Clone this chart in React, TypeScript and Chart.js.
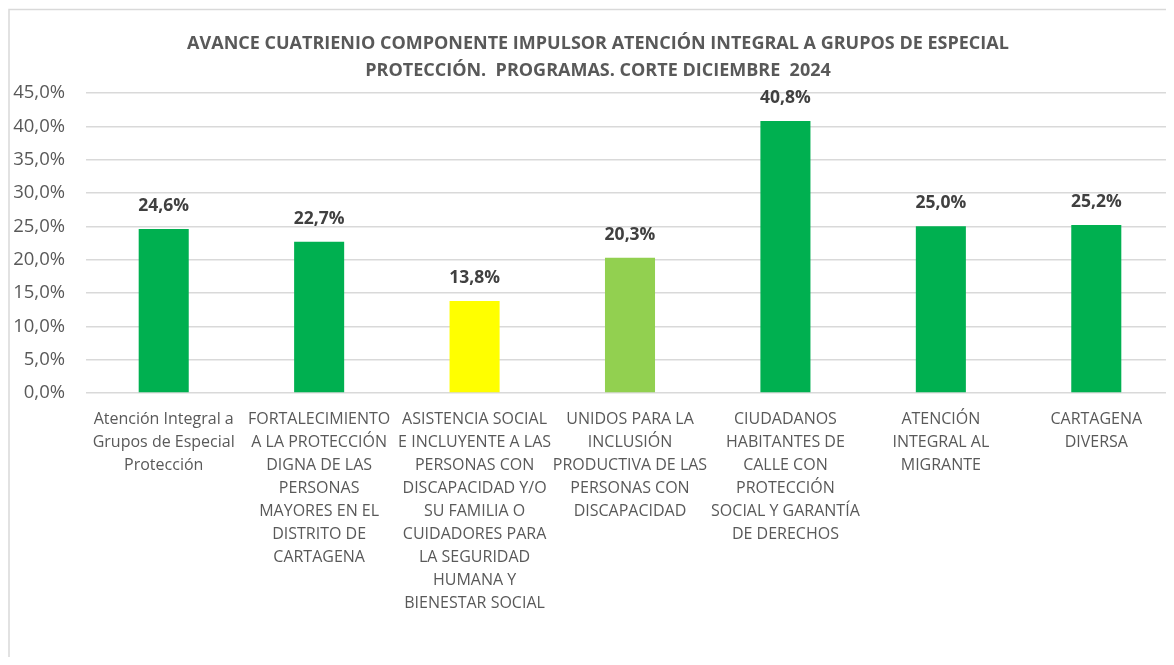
import React, { useEffect, useRef } from "react";
import { Chart, registerables } from "chart.js";

Chart.register(...registerables);

const titleLines = [
  "AVANCE CUATRIENIO COMPONENTE IMPULSOR ATENCIÓN INTEGRAL A GRUPOS DE ESPECIAL",
  "PROTECCIÓN.  PROGRAMAS. CORTE DICIEMBRE  2024",
];

const categories: string[][] = [
  ["Atención Integral a", "Grupos de Especial", "Protección"],
  ["FORTALECIMIENTO", "A LA PROTECCIÓN", "DIGNA DE LAS", "PERSONAS", "MAYORES EN EL", "DISTRITO DE", "CARTAGENA"],
  ["ASISTENCIA SOCIAL", "E INCLUYENTE A LAS", "PERSONAS CON", "DISCAPACIDAD Y/O", "SU FAMILIA O", "CUIDADORES PARA", "LA SEGURIDAD", "HUMANA Y", "BIENESTAR SOCIAL"],
  ["UNIDOS PARA LA", "INCLUSIÓN", "PRODUCTIVA DE LAS", "PERSONAS CON", "DISCAPACIDAD"],
  ["CIUDADANOS", "HABITANTES DE", "CALLE CON", "PROTECCIÓN", "SOCIAL Y GARANTÍA", "DE DERECHOS"],
  ["ATENCIÓN", "INTEGRAL AL", "MIGRANTE"],
  ["CARTAGENA", "DIVERSA"],
];

const avance = [24.6, 22.7, 13.8, 20.3, 40.8, 25.0, 25.2];

const barColors = ["#00B050", "#00B050", "#FFFF00", "#92D050", "#00B050", "#00B050", "#00B050"];

const yTicks = [0, 5, 10, 15, 20, 25, 30, 35, 40, 45];

const FONT = "'Open Sans', 'Noto Sans', sans-serif";

const fmt = (v: number) => v.toFixed(1).replace(".", ",") + "%";

const decorPlugin = {
  id: "decor",
  beforeDraw(chart: any) {
    const ctx = chart.ctx;
    ctx.save();
    ctx.fillStyle = "#ffffff";
    ctx.fillRect(0, 0, chart.width, chart.height);
    ctx.strokeStyle = "#d9d9d9";
    ctx.lineWidth = 1.5;
    ctx.beginPath();
    ctx.moveTo(1, chart.height);
    ctx.lineTo(1, 1.5);
    ctx.lineTo(chart.width, 1.5);
    ctx.stroke();
    ctx.restore();
  },
  afterDraw(chart: any) {
    const ctx = chart.ctx;
    ctx.save();
    ctx.fillStyle = "#595959";
    ctx.font = `bold 18px ${FONT}`;
    ctx.textAlign = "center";
    ctx.textBaseline = "middle";
    const cx = chart.width / 2 + 7;
    ctx.fillText(titleLines[0], cx, 36);
    ctx.fillText(titleLines[1], cx, 63);
    // data labels
    const meta = chart.getDatasetMeta(0);
    ctx.fillStyle = "#404040";
    ctx.font = `bold 17.5px ${FONT}`;
    meta.data.forEach((bar: any, i: number) => {
      ctx.fillText(fmt(avance[i]), bar.x, bar.y - 23);
    });
    ctx.restore();
  },
};

export default function App() {
  const ref = useRef<HTMLCanvasElement | null>(null);
  useEffect(() => {
    document.body.style.overflow = "hidden";
    const chart = new Chart(ref.current as HTMLCanvasElement, {
      type: "bar",
      data: {
        labels: categories as any,
        datasets: [
          {
            data: avance,
            backgroundColor: barColors,
            borderWidth: 0,
            barPercentage: 0.322,
            categoryPercentage: 1,
          },
        ],
      },
      options: {
        responsive: false,
        animation: false,
        layout: { padding: { top: 85, left: 0, right: 0, bottom: 0 } },
        plugins: {
          legend: { display: false },
          title: { display: false },
          tooltip: { enabled: false },
        },
        scales: {
          x: {
            grid: { display: false, drawTicks: false },
            border: { display: false },
            ticks: {
              color: "#595959",
              font: { family: FONT, size: 16, lineHeight: "23px" as any },
              padding: 15,
              maxRotation: 0,
              autoSkip: false,
            },
            afterFit: (s: any) => {
              s.height = 264;
            },
          },
          y: {
            min: 0,
            max: 45,
            afterBuildTicks: (s: any) => {
              s.ticks = yTicks.map((v) => ({ value: v }));
            },
            grid: { color: "#d9d9d9", lineWidth: 1.6, drawTicks: false },
            border: { display: false },
            ticks: {
              color: "#595959",
              font: { family: FONT, size: 18.5 },
              padding: 21,
              callback: (v: any) => fmt(Number(v)),
            },
            afterFit: (s: any) => {
              s.width = 78;
            },
          },
        },
      },
      plugins: [decorPlugin],
    });
    return () => chart.destroy();
  }, []);
  return <canvas ref={ref} width={1166} height={649} style={{ display: "block" }} />;
}
